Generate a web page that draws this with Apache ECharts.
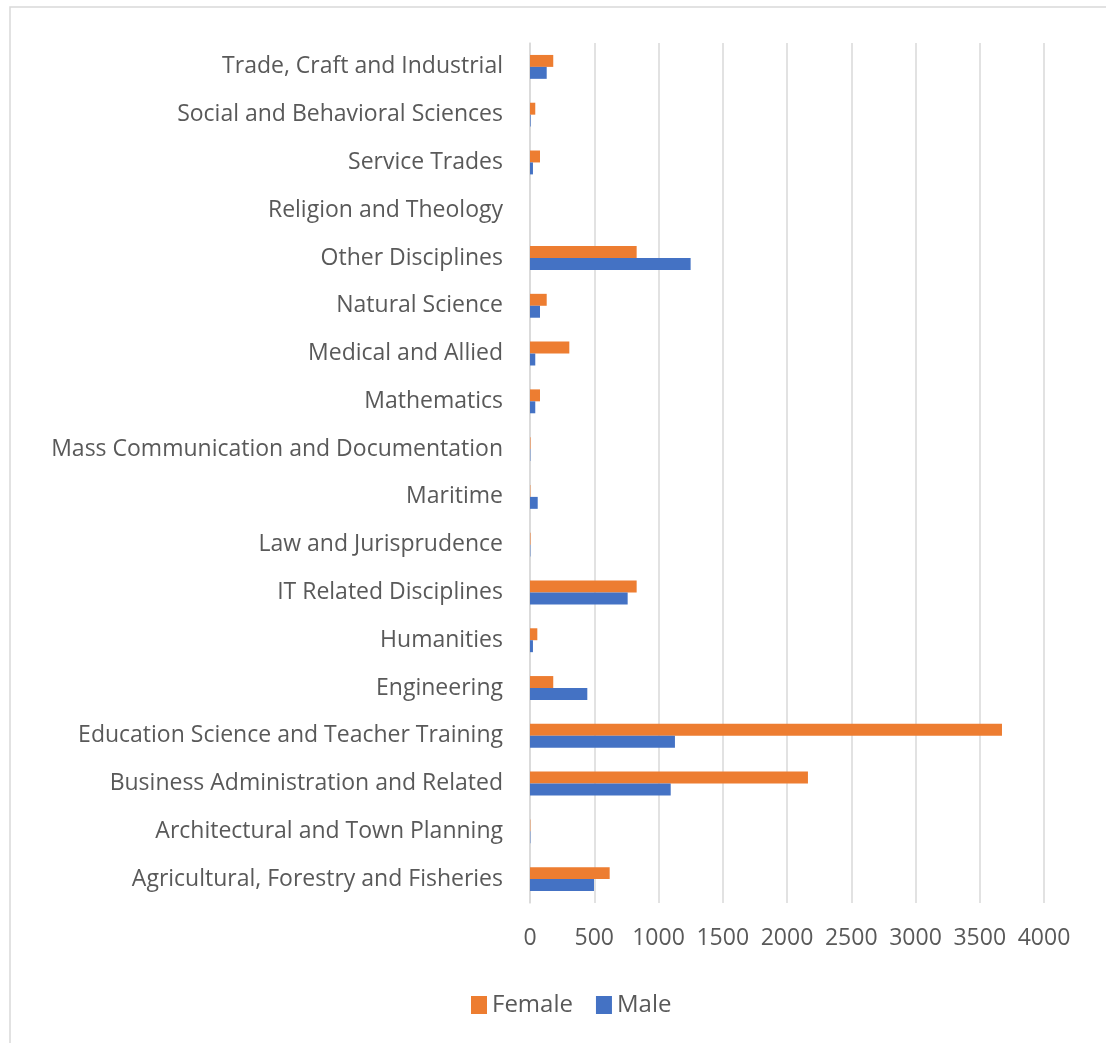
<!DOCTYPE html>
<html><head><meta charset="utf-8">
<script src="https://cdn.jsdelivr.net/npm/echarts@6/dist/echarts.min.js"></script>
<style>html,body{margin:0;padding:0;background:#fff}#c{width:1106px;height:1043px}</style>
</head><body><div id="c"></div>
<script>
const categories = ["Agricultural, Forestry and Fisheries","Architectural and Town Planning","Business Administration and Related","Education Science and Teacher Training","Engineering","Humanities","IT Related Disciplines","Law and Jurisprudence","Maritime","Mass Communication and Documentation","Mathematics","Medical and Allied","Natural Science","Other Disciplines","Religion and Theology","Service Trades","Social and Behavioral Sciences","Trade, Craft and Industrial"];
const female = [620, 3, 2163, 3673, 181, 57, 830, 4, 3, 4, 78, 306, 130, 830, 0, 78, 41, 181];
const male = [498, 3, 1095, 1128, 446, 23, 760, 3, 60, 3, 41, 41, 78, 1250, 0, 23, 5, 130];
const xTicks = [0, 500, 1000, 1500, 2000, 2500, 3000, 3500, 4000];

const chart = echarts.init(document.getElementById('c'));
const font = 'Open Sans';
chart.setOption({
  animation: false,
  textStyle: {fontFamily: font},
  graphic: [{type:'rect', shape:{x:10, y:7, width:1200, height:1100}, style:{fill:'none', stroke:'#d9d9d9', lineWidth:1.5}, silent:true}],
  legend: {
    data: ['Female','Male'], top: 988, left: 466, itemWidth: 16, itemHeight: 18, itemGap: 23,
    icon: 'rect', textStyle: {fontSize: 24, color: '#595959', fontFamily: font}
  },
  grid: {left: 530, right: 62, top: 43, bottom: 140, containLabel: false},
  xAxis: {
    type: 'value', min: xTicks[0], max: xTicks[xTicks.length-1], interval: 500,
    axisLine: {show: false}, axisTick: {show: false},
    axisLabel: {fontSize: 23, color: '#595959', margin: 24, fontFamily: font, formatter: v => String(v)},
    splitLine: {show: true, lineStyle: {color: '#d9d9d9', width: 1.5}}
  },
  yAxis: {
    type: 'category', data: categories,
    axisLine: {show: true, lineStyle: {color: '#d9d9d9', width: 1.5}}, axisTick: {show: false},
    axisLabel: {fontSize: 23, color: '#595959', margin: 27, fontFamily: font}
  },
  series: [
    {name: 'Female', type: 'bar', data: female, itemStyle: {color: '#ed7d31'}, barGap: '0%', barCategoryGap: '50%'},
    {name: 'Male', type: 'bar', data: male, itemStyle: {color: '#4472c4'}, barGap: '0%', barCategoryGap: '50%'}
  ]
});
</script></body></html>
